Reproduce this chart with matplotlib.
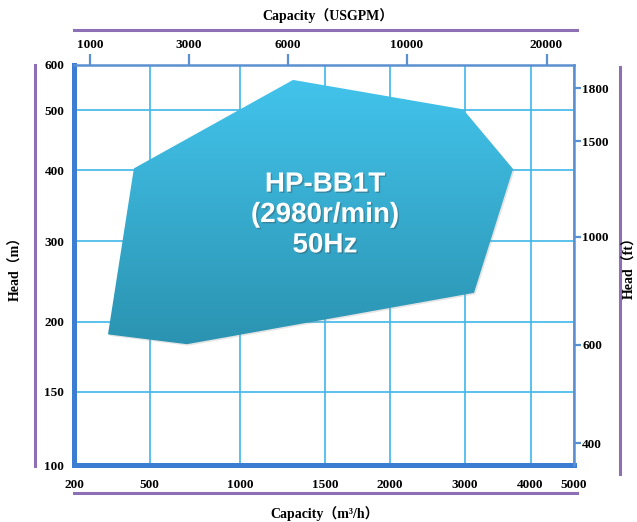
import numpy as np
import matplotlib
matplotlib.use("Agg")
import matplotlib.pyplot as plt
import matplotlib.patheffects as pe
import matplotlib.transforms as mtransforms
from matplotlib.patches import Polygon
from matplotlib.lines import Line2D
from matplotlib.colors import LinearSegmentedColormap

# performance envelope (capacity m3/h, head m)
env_capacity = [335, 438, 1312, 2980, 3735, 3144, 707]
env_head = [191, 403, 567, 502, 402, 236, 184]

# tick values of the four axes
cap_ticks = [200, 500, 1000, 1500, 2000, 3000, 4000, 5000]
gpm_ticks = [1000, 3000, 6000, 10000, 20000]
head_m_ticks = [100, 150, 200, 300, 400, 500, 600]
head_ft_ticks = [400, 600, 1000, 1500, 1800]

# the chart uses hand-spaced (non uniform) axes: value -> fraction of axis
cap_knots = [200, 500, 1000, 1500, 2000, 3000, 4000, 5000]
cap_frac = [0, 0.151, 0.332, 0.502, 0.632, 0.781, 0.913, 1.0]
gpm_knots = [880, 1000, 3000, 6000, 10000, 20000, 22000]
gpm_frac = [0, 0.032, 0.229, 0.428, 0.666, 0.945, 1.0]
hm_knots = [100, 150, 200, 300, 400, 500, 600]
hm_frac = [0, 0.183, 0.358, 0.559, 0.737, 0.887, 1.0]
hft_knots = [328, 400, 600, 1000, 1500, 1800, 1968]
hft_frac = [0, 0.055, 0.301, 0.571, 0.810, 0.942, 1.0]


def piecewise(knots, frac):
    fwd = lambda v: np.interp(v, knots, frac)
    inv = lambda p: np.interp(p, frac, knots)
    return fwd, inv


plt.rcParams['font.family'] = ['Liberation Serif', 'Noto Sans CJK SC']
plt.rcParams['font.weight'] = 'bold'

thick_blue = '#3b7dd2'
thin_blue = '#5a90d0'
grid_blue = '#3fb6ea'
purple = '#8d6fb6'

fig = plt.figure(figsize=(6.37, 5.22), dpi=100)
W, H = 637, 522
ax = fig.add_axes([74 / W, (H - 465) / H, 500 / W, 400 / H])

ax.set_xscale('function', functions=piecewise(cap_knots, cap_frac))
ax.set_yscale('function', functions=piecewise(hm_knots, hm_frac))

# gradient filled envelope
cmap = LinearSegmentedColormap.from_list('env', ['#2b93b1', '#43c4ec'])
grad = np.linspace(0, 1, 256).reshape(-1, 1)
im = ax.imshow(grad, extent=(0, 1, 0.3, 0.97), transform=ax.transAxes,
               cmap=cmap, origin='lower', aspect='auto', zorder=3)
env = Polygon(np.column_stack([env_capacity, env_head]), closed=True,
              facecolor='none', edgecolor='none')
ax.add_patch(env)
im.set_clip_path(env)

shadow_tr = mtransforms.offset_copy(ax.transData, fig, x=1.5, y=-1.5, units='dots')
shadow = Polygon(np.column_stack([env_capacity, env_head]), closed=True,
                 facecolor='#999999', edgecolor='none', alpha=0.25,
                 transform=shadow_tr, zorder=2.5)
ax.add_patch(shadow)

ax.set_xlim(200, 5000)
ax.set_ylim(100, 600)

ax.set_xticks(cap_ticks, [str(t) for t in cap_ticks])
ax.set_yticks(head_m_ticks, [str(t) for t in head_m_ticks])
ax.tick_params(axis='both', length=0, labelsize=9.5)
ax.tick_params(axis='x', pad=10)
ax.tick_params(axis='y', pad=7)
ax.grid(True, color=grid_blue, linewidth=1.2, zorder=1)
ax.set_axisbelow(True)

for s in ['top', 'right']:
    ax.spines[s].set_visible(False)
for s in ['left', 'bottom']:
    ax.spines[s].set_color(thick_blue)
    ax.spines[s].set_linewidth(3.6)
    ax.spines[s].set_zorder(6)

# top axis : USGPM
ax_top = ax.twiny()
ax_top.set_xscale('function', functions=piecewise(gpm_knots, gpm_frac))
ax_top.set_xlim(gpm_knots[0], gpm_knots[-1])
ax_top.set_xticks(gpm_ticks, [str(t) for t in gpm_ticks])
ax_top.tick_params(axis='x', length=8, width=1.6, color=thin_blue, pad=2, labelsize=9.5)
for s in ['left', 'right', 'bottom']:
    ax_top.spines[s].set_visible(False)
ax_top.spines['top'].set_color(thin_blue)
ax_top.spines['top'].set_linewidth(1.8)

# right axis : head ft
ax_right = ax.twinx()
ax_right.set_yscale('function', functions=piecewise(hft_knots, hft_frac))
ax_right.set_ylim(hft_knots[0], hft_knots[-1])
ax_right.set_yticks(head_ft_ticks, [str(t) for t in head_ft_ticks])
ax_right.tick_params(axis='y', length=5, width=1.6, color=thin_blue, pad=1, labelsize=9.5)
for s in ['left', 'top', 'bottom']:
    ax_right.spines[s].set_visible(False)
ax_right.spines['right'].set_color(thin_blue)
ax_right.spines['right'].set_linewidth(1.8)

# model text
ax.text(0.502, 0.625, "HP-BB1T\n(2980r/min)\n50Hz", transform=ax.transAxes,
        ha='center', va='center', color='white', fontsize=20, fontweight='bold',
        family='Liberation Sans', linespacing=1.22, zorder=5,
        path_effects=[pe.withSimplePatchShadow(offset=(1, -1), shadow_rgbFace='#333333', alpha=0.3)])

# purple frame lines
fig.add_artist(Line2D([74 / W, 577 / W], [1 - 30 / H] * 2, transform=fig.transFigure, color=purple, lw=2.2))
fig.add_artist(Line2D([74 / W, 577 / W], [1 - 493 / H] * 2, transform=fig.transFigure, color=purple, lw=2.2))
fig.add_artist(Line2D([35 / W] * 2, [1 - 65 / H, 1 - 466 / H], transform=fig.transFigure, color=purple, lw=2.2))
fig.add_artist(Line2D([620 / W] * 2, [1 - 67 / H, 1 - 474 / H], transform=fig.transFigure, color=purple, lw=2.2))

# axis titles
fig.text(328 / W, 1 - 16 / H, "Capacity（USGPM）", ha='center', va='center', fontsize=10, fontweight='bold')
fig.text(325 / W, 1 - 514 / H, "Capacity（m³/h）", ha='center', va='center', fontsize=10, fontweight='bold')
fig.text(16 / W, 1 - 265 / H, "Head（m）", ha='center', va='center', rotation=90, fontsize=10, fontweight='bold')
fig.text(630 / W, 1 - 265 / H, "Head（ft）", ha='center', va='center', rotation=90, fontsize=10, fontweight='bold')

fig.savefig('out.png', dpi=100)
